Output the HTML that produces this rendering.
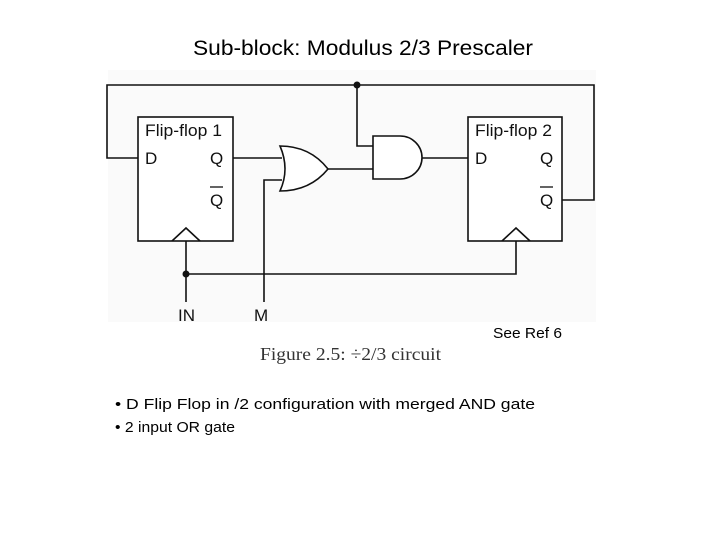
<!DOCTYPE html>
<html><head><meta charset="utf-8"><style>
html,body{margin:0;padding:0;background:#fff;}
body{width:720px;height:540px;position:relative;overflow:hidden;}
</style></head><body>
<svg width="720" height="540" xmlns="http://www.w3.org/2000/svg" style="position:absolute;left:0;top:0">
<rect x="108" y="70" width="488" height="252" fill="#fafafa"/>
<text x="193" y="55" textLength="340" lengthAdjust="spacingAndGlyphs" font-family="Liberation Sans, sans-serif" font-size="21" fill="#000">Sub-block: Modulus 2/3 Prescaler</text>
<g stroke="#111" stroke-width="1.6" fill="none">
<rect x="138" y="117" width="95" height="124" fill="#fff"/>
<rect x="468" y="117" width="94" height="124" fill="#fff"/>
<polyline points="172,241 186,228 200,241"/>
<polyline points="502,241 516,228 530,241"/>
<polyline points="138,158 107,158 107,85 594,85 594,200 562,200"/>
<polyline points="357,85 357,146 373,146"/>
<line x1="233" y1="158" x2="282" y2="158"/>
<polyline points="264,302 264,180 282,180"/>
<line x1="328" y1="169" x2="373" y2="169"/>
<line x1="422" y1="158" x2="468" y2="158"/>
<line x1="186" y1="241" x2="186" y2="302"/>
<polyline points="186,274 516,274 516,241"/>
<path d="M280,146 Q310,146 328,169 Q310,191 280,191 Q290,169 280,146 Z" fill="#fff"/>
<path d="M373,136 L400,136 A22,21.5 0 0 1 400,179 L373,179 Z" fill="#fff"/>
</g>
<circle cx="357" cy="85" r="3.5" fill="#111"/>
<circle cx="186" cy="274" r="3.5" fill="#111"/>
<g font-family="Liberation Sans, sans-serif" font-size="17" fill="#111">
<text x="145" y="136" textLength="77" lengthAdjust="spacingAndGlyphs">Flip-flop 1</text>
<text x="145" y="164">D</text>
<text x="210" y="164">Q</text>
<text x="210" y="206">Q</text>
<line x1="210" y1="187" x2="223" y2="187" stroke="#111" stroke-width="1.3"/>
<text x="475" y="136" textLength="77" lengthAdjust="spacingAndGlyphs">Flip-flop 2</text>
<text x="475" y="164">D</text>
<text x="540" y="164">Q</text>
<text x="540" y="206">Q</text>
<line x1="540" y1="187" x2="553" y2="187" stroke="#111" stroke-width="1.3"/>
<text x="178" y="321">IN</text>
<text x="254" y="321">M</text>
</g>
<text x="493" y="338" textLength="69" lengthAdjust="spacingAndGlyphs" font-family="Liberation Sans, sans-serif" font-size="15" fill="#000">See Ref 6</text>
<text x="260" y="360" textLength="181" lengthAdjust="spacingAndGlyphs" font-family="Liberation Serif, serif" font-size="18" fill="#333">Figure 2.5:  ÷2/3 circuit</text>
<g font-family="Liberation Sans, sans-serif" font-size="15" fill="#000">
<text x="115" y="409" textLength="420" lengthAdjust="spacingAndGlyphs">• D Flip Flop in /2 configuration with merged AND gate</text>
<text x="115" y="432" textLength="120" lengthAdjust="spacingAndGlyphs">• 2 input OR gate</text>
</g>
</svg>
</body></html>
